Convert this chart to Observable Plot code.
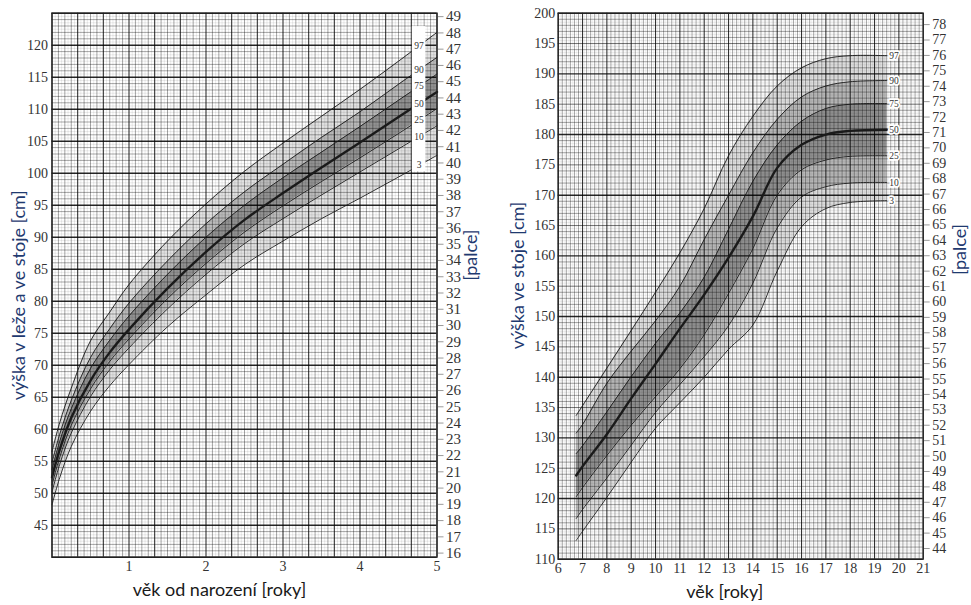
<!DOCTYPE html>
<html><head><meta charset="utf-8">
<script src="https://cdn.jsdelivr.net/npm/d3@7"></script>
<script src="https://cdn.jsdelivr.net/npm/@observablehq/plot@0.6"></script>
<style>
html,body{margin:0;padding:0;background:#fff;}
#wrap{position:relative;width:971px;height:605px;overflow:hidden;background:#fff;}
#left{position:absolute;left:0;top:0;}
#right{position:absolute;left:490px;top:0;}
</style></head><body><div id="wrap"><div id="left"></div><div id="right"></div></div>
<script>
// ---------- DATA ----------
const percentileLabels = ["3", "10", "25", "50", "75", "90", "97"];

// Left chart: 0–5 years (height lying / standing, cm)
const leftAges = [0, 0.1, 0.25, 0.5, 0.75, 1, 1.5, 2, 2.5, 3, 3.5, 4, 4.5, 5];
const leftP3  = [48.2, 52.4, 57.3, 62.8, 66.8, 70.1, 76.0, 81.0, 85.7, 89.4, 92.9, 96.1, 99.4, 102.8];
const leftP10 = [50.2, 54.5, 59.4, 65.1, 69.3, 72.7, 78.8, 84.2, 89.0, 92.9, 96.6, 100.2, 103.8, 107.4];
const leftP25 = [51.3, 55.6, 60.6, 66.3, 70.6, 74.1, 80.4, 85.9, 90.8, 94.9, 98.7, 102.4, 106.2, 110.1];
const leftP50 = [52.5, 56.8, 61.8, 67.6, 72.0, 75.6, 82.0, 87.7, 92.7, 96.9, 100.9, 104.8, 108.8, 112.7];
const leftP75 = [53.7, 58.1, 63.2, 69.5, 73.9, 77.7, 84.2, 90.0, 95.0, 99.3, 103.3, 107.3, 111.4, 115.5];
const leftP90 = [54.8, 59.2, 64.5, 71.2, 75.7, 79.7, 86.3, 92.1, 97.1, 101.4, 105.6, 109.6, 113.9, 118.1];
const leftP97 = [56.5, 61.0, 66.4, 73.8, 78.3, 82.6, 89.4, 95.2, 100.3, 104.7, 108.9, 113.1, 117.5, 122.0];

// Right chart: 6–21 years (standing height, cm)
const rightAges = [6.74, 7, 8, 9, 10, 11, 12, 13, 14, 15, 16, 17, 18, 19.5];
const rightP3  = [113.1, 114.6, 120.2, 126.0, 131.6, 135.8, 140.0, 144.6, 148.6, 157.5, 164.8, 167.8, 168.8, 169.1];
const rightP10 = [116.7, 118.2, 123.4, 128.8, 134.2, 138.8, 143.4, 148.5, 155.5, 164.6, 169.7, 171.4, 172.0, 172.1];
const rightP25 = [120.3, 121.8, 127.1, 132.1, 136.8, 141.4, 147.0, 153.8, 161.2, 170.0, 174.2, 175.8, 176.4, 176.5];
const rightP50 = [123.8, 125.3, 130.6, 136.5, 142.2, 148.0, 153.6, 159.7, 166.5, 174.5, 178.3, 180.0, 180.6, 180.8];
const rightP75 = [127.4, 128.7, 134.3, 140.1, 145.6, 150.6, 156.5, 164.4, 172.3, 178.3, 182.2, 184.3, 185.0, 185.1];
const rightP90 = [130.8, 132.2, 139.0, 144.3, 149.3, 155.0, 162.7, 170.0, 177.0, 182.5, 186.2, 188.0, 188.7, 188.9];
const rightP97 = [133.7, 135.3, 141.5, 147.7, 154.0, 160.5, 167.8, 176.5, 183.0, 188.0, 191.0, 192.5, 193.0, 193.0];

// Tick labels
const leftCmTicks = [45, 50, 55, 60, 65, 70, 75, 80, 85, 90, 95, 100, 105, 110, 115, 120];
const leftInchTicks = d3.range(16, 50);
const leftYearTicks = [1, 2, 3, 4, 5];
const rightCmTicks = [110, 115, 120, 125, 130, 135, 140, 145, 150, 155, 160, 165, 170, 175, 180, 185, 190, 195, 200];
const rightInchTicks = d3.range(44, 79);
const rightYearTicks = d3.range(6, 22);

const leftTitleY = "výška v leže a ve stoje [cm]";
const leftTitleX = "věk od narození [roky]";
const rightTitleY = "výška ve stoje [cm]";
const rightTitleX = "věk [roky]";
const inchTitle = "[palce]";

// ---------- HELPERS ----------
const keys = ["p3", "p10", "p25", "p50", "p75", "p90", "p97"];
function table(ages, cols) {
  return ages.map((a, i) => {
    const r = {age: a};
    keys.forEach((k, j) => r[k] = cols[j][i]);
    return r;
  });
}
const leftRows = table(leftAges, [leftP3, leftP10, leftP25, leftP50, leftP75, leftP90, leftP97]);
const rightRows = table(rightAges, [rightP3, rightP10, rightP25, rightP50, rightP75, rightP90, rightP97]);

const LIGHT = "#e2e2e2", MID = "#bababa", DARK = "#929292";
const bandDefs = [["p3", "p10", LIGHT], ["p10", "p25", MID], ["p25", "p50", DARK], ["p50", "p75", DARK], ["p75", "p90", MID], ["p90", "p97", LIGHT]];
const BLUE = "#1f3a70";
const TITLE_FONT = "Lato, 'Open Sans', sans-serif";
const SERIF = "'Liberation Serif', 'DejaVu Serif', serif";
const CURVE = "catmull-rom";

function bands(rows) {
  return bandDefs.map(([a, b, c]) => Plot.areaY(rows, {x: "age", y1: a, y2: b, fill: c, curve: CURVE}));
}
function curves(rows) {
  return keys.map(k => Plot.line(rows, {x: "age", y: k, curve: CURVE, stroke: "#1a1a1a", strokeWidth: k === "p50" ? 2.4 : 0.9}));
}
function gridLines(xs, ys) {
  const out = [];
  for (const [vals, op, w] of xs) out.push(Plot.ruleX(vals, {stroke: "#000", strokeOpacity: op, strokeWidth: w}));
  for (const [vals, op, w] of ys) out.push(Plot.ruleY(vals, {stroke: "#000", strokeOpacity: op, strokeWidth: w}));
  return out;
}
function interp(ages, vals, a) {
  for (let i = 0; i < ages.length - 1; i++) {
    if (a >= ages[i] && a <= ages[i + 1]) {
      const t = (a - ages[i]) / (ages[i + 1] - ages[i]);
      return vals[i] + t * (vals[i + 1] - vals[i]);
    }
  }
  return vals[vals.length - 1];
}
function title(text, anchor, dx, dy, rotate, fill) {
  return Plot.text([text], {frameAnchor: anchor, textAnchor: "middle", lineAnchor: "middle", rotate, dx, dy, fontSize: 18, fontFamily: TITLE_FONT, fill});
}

// ---------- LEFT CHART ----------
{
  const W = 490, H = 605;
  const vFaint = [], vMid = [], vMajor = [];
  for (let i = 0; i <= 120; i++) { const x = i / 24; (i % 8 === 0 ? vMajor : i % 2 === 0 ? vMid : vFaint).push(x); }
  const hFaint = [], hMid = [], hMajor = [];
  for (let i = 0; i <= 170; i++) { const y = 40 + i / 2; (i % 10 === 0 ? hMajor : i % 2 === 0 ? hMid : hFaint).push(y); }

  const boxX1 = 4.68, boxX2 = 4.855, labelAge = 4.767;
  const lcols = [leftP3, leftP10, leftP25, leftP50, leftP75, leftP90, leftP97];
  const labels = percentileLabels.map((l, j) => ({label: l, x: labelAge, y: interp(leftAges, lcols[j], labelAge)}));
  const box = [{x1: boxX1, x2: boxX2, y1: labels[0].y - 1, y2: labels[6].y + 3}];

  const plot = Plot.plot({
    width: W, height: H,
    marginLeft: 51.5, marginRight: 53.5, marginTop: 12.7, marginBottom: 48.3,
    x: {domain: [0, 5], label: null},
    y: {domain: [40, 125], label: null},
    style: {fontFamily: SERIF, fontSize: "14px", color: "#333", background: "white"},
    marks: [
      ...bands(leftRows),
      ...gridLines([[vFaint, 0.14, 0.6], [vMid, 0.5, 0.7], [vMajor, 0.8, 1.1]],
                   [[hFaint, 0.14, 0.6], [hMid, 0.5, 0.7], [hMajor, 0.85, 1.4]]),
      ...curves(leftRows),
      Plot.rectY(box, {x1: "x1", x2: "x2", y1: "y1", y2: "y2", fill: "white"}),
      Plot.text(labels, {x: "x", y: "y", text: "label", fontSize: 9.5, fontFamily: SERIF, fill: "#333"}),
      Plot.axisY(leftCmTicks, {anchor: "left", tickSize: 0, tickPadding: 4, fontSize: 14, fill: "#333", label: null}),
      Plot.axisY(leftInchTicks.map(d => d * 2.54), {anchor: "right", tickSize: 6, tickPadding: 3, stroke: "#999", fill: "#333", fontSize: 15, tickFormat: d => Math.round(d / 2.54), label: null}),
      Plot.axisX(leftYearTicks, {anchor: "bottom", tickSize: 0, tickPadding: 4, fontSize: 14, fill: "#333", label: null}),
      Plot.frame({stroke: "#222", strokeWidth: 1.3}),
      title(leftTitleY, "left", -32.5, 10, -90, BLUE),
      title(inchTitle, "right", 34.5, -30, -90, BLUE),
      title(leftTitleX, "bottom", -25, 33, 0, "#1a1a1a")
    ]
  });
  document.getElementById("left").appendChild(plot);
}

// ---------- RIGHT CHART ----------
{
  const W = 481, H = 605;
  const vFaint = [], vMid = [], vMajor = [];
  for (let i = 0; i <= 180; i++) { const x = 6 + i / 12; (i % 12 === 0 ? vMajor : i % 2 === 0 ? vMid : vFaint).push(x); }
  const hFaint = [], hMid = [], hFive = [], hMajor = [];
  for (let i = 0; i <= 180; i++) { const y = 110 + i / 2; (i % 20 === 0 ? hMajor : i % 10 === 0 ? hFive : i % 2 === 0 ? hMid : hFaint).push(y); }

  const lastAge = rightAges[rightAges.length - 1];
  const rcols = [rightP3, rightP10, rightP25, rightP50, rightP75, rightP90, rightP97];
  const labels = percentileLabels.map((l, j) => ({label: l, x: lastAge, y: rcols[j][rcols[j].length - 1]}));

  const plot = Plot.plot({
    width: W, height: H,
    marginLeft: 67.7, marginRight: 48.3, marginTop: 12.7, marginBottom: 46.3,
    x: {domain: [6, 21], label: null},
    y: {domain: [110, 200], label: null},
    style: {fontFamily: SERIF, fontSize: "14px", color: "#333", background: "white"},
    marks: [
      ...bands(rightRows),
      ...gridLines([[vFaint, 0.12, 0.5], [vMid, 0.5, 0.7], [vMajor, 0.8, 1.1]],
                   [[hFaint, 0.12, 0.5], [hMid, 0.5, 0.7], [hFive, 0.6, 0.9], [hMajor, 0.85, 1.4]]),
      ...curves(rightRows),
      Plot.text(labels, {x: "x", y: "y", text: "label", dx: 2.5, textAnchor: "start", fontSize: 9.5, fontFamily: SERIF, fill: "#333", stroke: "white", strokeWidth: 3.5}),
      Plot.axisY(rightCmTicks, {anchor: "left", tickSize: 0, tickPadding: 3, fontSize: 14, fill: "#333", label: null}),
      Plot.axisY(rightInchTicks.map(d => d * 2.54), {anchor: "right", tickSize: 6, tickPadding: 3, stroke: "#999", fill: "#333", fontSize: 14, tickFormat: d => Math.round(d / 2.54), label: null}),
      Plot.axisX(rightYearTicks, {anchor: "bottom", tickSize: 0, tickPadding: 4, fontSize: 14, fill: "#333", label: null}),
      Plot.frame({stroke: "#222", strokeWidth: 1.3}),
      title(rightTitleY, "left", -39.7, -10.7, -90, BLUE),
      title(inchTitle, "right", 37.3, -36.7, -90, BLUE),
      title(rightTitleX, "bottom", -16, 33.3, 0, "#1a1a1a")
    ]
  });
  document.getElementById("right").appendChild(plot);
}
</script></body></html>
